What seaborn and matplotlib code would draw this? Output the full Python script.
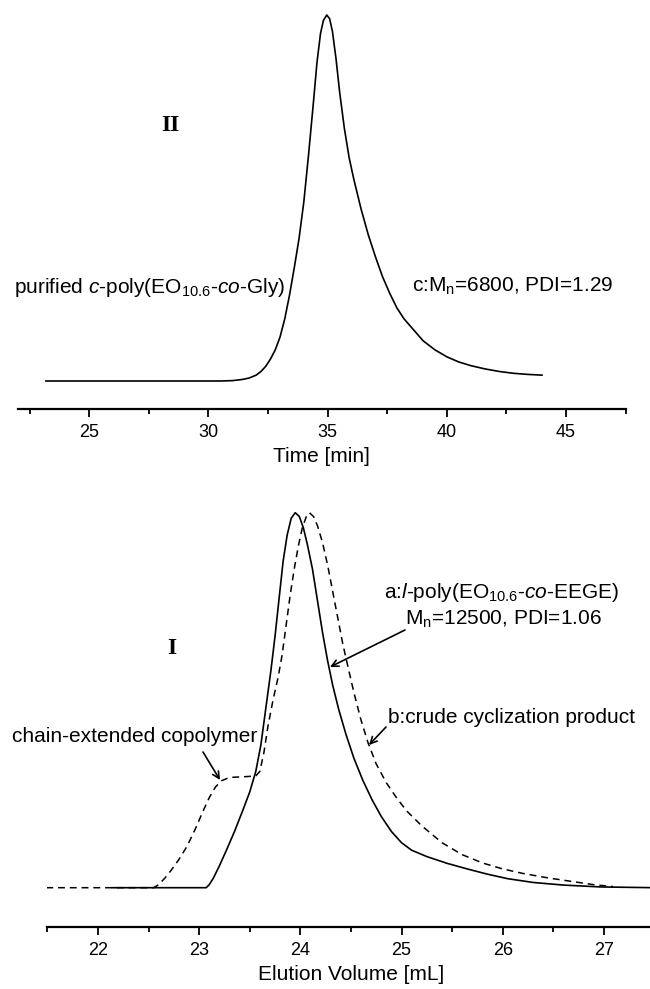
import matplotlib
matplotlib.use("Agg")
import matplotlib.pyplot as plt
import seaborn as sns
import pandas as pd

# ---------------- data ----------------
# Panel II: purified c-poly(EO10.6-co-Gly), SEC trace vs time [min]
time_c = [23.17, 25.0, 28.0, 30.5, 31.0, 31.4, 31.7, 32.0, 32.2, 32.4, 32.6, 32.8, 33.0,
          33.2, 33.4, 33.6, 33.8, 34.0, 34.2, 34.4, 34.55, 34.7, 34.82, 34.96, 35.08, 35.2,
          35.35, 35.5, 35.7, 35.9, 36.1, 36.4, 36.7, 37.0, 37.3, 37.6, 37.9, 38.2, 38.6,
          39.0, 39.5, 40.0, 40.5, 41.0, 41.6, 42.2, 42.8, 43.4, 44.0]
sig_c = [0.0, 0.0, 0.0, 0.0, 0.001, 0.004, 0.008, 0.016, 0.026, 0.04, 0.06, 0.085, 0.12,
         0.17, 0.235, 0.31, 0.39, 0.49, 0.62, 0.76, 0.87, 0.95, 0.985, 1.0, 0.99, 0.955,
         0.88, 0.79, 0.69, 0.61, 0.55, 0.47, 0.40, 0.34, 0.285, 0.24, 0.20, 0.17, 0.14,
         0.11, 0.085, 0.066, 0.052, 0.042, 0.033, 0.026, 0.021, 0.018, 0.016]

# Panel I: a = linear precursor (solid), b = crude cyclization product (dashed)
vol_a = [22.14, 23.0, 23.07, 23.1, 23.14, 23.2, 23.27, 23.35, 23.43, 23.5, 23.56, 23.61,
         23.66, 23.71, 23.75, 23.79, 23.83, 23.87, 23.91, 23.95, 23.99, 24.03, 24.07, 24.12,
         24.17, 24.22, 24.27, 24.32, 24.38, 24.45, 24.53, 24.62, 24.71, 24.8, 24.9, 25.0,
         25.1, 25.25, 25.45, 25.65, 25.85, 26.05, 26.3, 26.6, 26.97, 27.5]
sig_a = [0.0, 0.0, 0.0, 0.008, 0.025, 0.058, 0.10, 0.15, 0.205, 0.255, 0.31, 0.38,
         0.48, 0.58, 0.67, 0.77, 0.87, 0.94, 0.985, 1.0, 0.99, 0.96, 0.915, 0.85,
         0.765, 0.68, 0.605, 0.54, 0.475, 0.41, 0.345, 0.285, 0.234, 0.19, 0.15, 0.12,
         0.10, 0.083, 0.065, 0.05, 0.036, 0.024, 0.014, 0.007, 0.002, 0.0]

vol_b = [21.49, 22.0, 22.55, 22.6, 22.66, 22.72, 22.8, 22.88, 22.96, 23.04, 23.1, 23.16,
         23.22, 23.3, 23.45, 23.56, 23.6, 23.64, 23.68, 23.73, 23.78, 23.82, 23.86, 23.9,
         23.94, 23.98, 24.02, 24.06, 24.09, 24.13, 24.17, 24.22, 24.27, 24.32, 24.37, 24.42,
         24.47, 24.53, 24.6, 24.67, 24.75, 24.85, 24.95, 25.05, 25.2, 25.4, 25.6, 25.8,
         26.0, 26.2, 26.45, 26.7, 26.9, 27.09]
sig_b = [0.0, 0.0, 0.0, 0.008, 0.025, 0.045, 0.075, 0.11, 0.155, 0.205, 0.24, 0.268,
         0.285, 0.294, 0.296, 0.298, 0.31, 0.36, 0.43, 0.50, 0.56, 0.62, 0.70, 0.78,
         0.85, 0.91, 0.96, 0.99, 1.0, 0.99, 0.965, 0.92, 0.86, 0.79, 0.72, 0.65,
         0.59, 0.52, 0.447, 0.386, 0.33, 0.28, 0.24, 0.205, 0.165, 0.12, 0.088, 0.066,
         0.05, 0.038, 0.026, 0.016, 0.008, 0.003]

top_ticks = [25, 30, 35, 40, 45]
bot_ticks = [22, 23, 24, 25, 26, 27]

# ---------------- style ----------------
sns.set_style("ticks")
plt.rcParams['font.family'] = ['Liberation Sans', 'DejaVu Sans']
plt.rcParams['mathtext.fontset'] = 'custom'
plt.rcParams['mathtext.rm'] = 'Liberation Sans'
plt.rcParams['mathtext.it'] = 'Liberation Sans:italic'
plt.rcParams['mathtext.bf'] = 'Liberation Sans:bold'
plt.rcParams['text.color'] = 'black'
plt.rcParams['axes.labelcolor'] = 'black'
plt.rcParams['xtick.color'] = 'black'
plt.rcParams['axes.edgecolor'] = 'black'

W, H = 650, 989
fig = plt.figure(figsize=(W / 100, H / 100), dpi=100)


def fx(px):
    return px / W


def fy(py):
    return 1 - py / H


# top axes: spine at y=409, left 18 -> right 625.7
ax1 = fig.add_axes([fx(18), fy(409), (625.7 - 18) / W, 409 / H])
# bottom axes: spine at y=926.7, left 47.3 -> right 654.5
ax2 = fig.add_axes([fx(47.3), fy(926.7), (654.5 - 47.3) / W, (926.7 - 500) / H])

df_c = pd.DataFrame({"t": time_c, "s": sig_c})
df_a = pd.DataFrame({"v": vol_a, "s": sig_a})
df_b = pd.DataFrame({"v": vol_b, "s": sig_b})

sns.lineplot(data=df_c, x="t", y="s", ax=ax1, color="black", lw=1.2, sort=False, estimator=None)
sns.lineplot(data=df_a, x="v", y="s", ax=ax2, color="black", lw=1.2, sort=False, estimator=None)
sns.lineplot(data=df_b, x="v", y="s", ax=ax2, color="black", lw=1.1, sort=False, estimator=None)
ax2.lines[-1].set_dashes([4.5, 3.2])
for ln in ax1.lines + ax2.lines:
    ln.set_solid_joinstyle('round')
    ln.set_dash_joinstyle('round')

ax1.set_xlim(22.01, 47.5)
ax1.set_ylim(-(409 - 381) / 366, 1 + 15 / 366)
ax2.set_xlim(21.5, 27.5)
ax2.set_ylim(-(926.7 - 887.7) / 375, 1 + 12.7 / 375)

for ax, ticks in ((ax1, top_ticks), (ax2, bot_ticks)):
    sns.despine(ax=ax, left=True, top=True, right=True)
    ax.set_yticks([])
    ax.set_ylabel("")
    ax.set_xticks(ticks)
    step = ticks[1] - ticks[0]
    ax.set_xticks([t + 0.5 * step for t in [ticks[0] - step] + ticks], minor=True)
    ax.spines['bottom'].set_linewidth(1.6)
    ax.spines['bottom'].set_color('black')
    ax.tick_params(axis='x', which='major', length=6, width=1.3, direction='out',
                   labelsize=13, pad=5, colors='black')
    ax.tick_params(axis='x', which='minor', length=3.5, width=1.3, direction='out',
                   colors='black')
    ax.set_facecolor('white')

ax1.set_xlabel("Time [min]", fontsize=15, labelpad=4, color='black')
ax2.set_xlabel("Elution Volume [mL]", fontsize=15, labelpad=4, color='black')

# ---------------- text ----------------
fs = 15
fig.text(fx(14.5), fy(293), r"purified $c$-poly(EO$_{10.6}$-$co$-Gly)", fontsize=fs,
         ha='left', va='baseline', color='black')
fig.text(fx(412), fy(292), r"c:M$_\mathrm{n}$=6800, PDI=1.29", fontsize=fs,
         ha='left', va='baseline', color='black')
fig.text(fx(170), fy(125), "II", fontsize=17, fontweight='bold',
         family=['Liberation Serif'], ha='center', va='center', color='black')
fig.text(fx(172), fy(649), "I", fontsize=17, fontweight='bold',
         family=['Liberation Serif'], ha='center', va='center', color='black')

fig.text(fx(502), fy(598), r"a:$l$-poly(EO$_{10.6}$-$co$-EEGE)", fontsize=fs,
         ha='center', va='baseline', color='black')
fig.text(fx(503), fy(625), r"M$_\mathrm{n}$=12500, PDI=1.06", fontsize=fs,
         ha='center', va='baseline', color='black')
fig.text(fx(388), fy(723), "b:crude cyclization product", fontsize=fs,
         ha='left', va='baseline', color='black')
fig.text(fx(12), fy(741.5), "chain-extended copolymer", fontsize=fs,
         ha='left', va='baseline', color='black')


def to_data(px, py):
    return 21.5 + (px - 47.3) / 101.2, (887.7 - py) / 375


arrows = [((405, 630), (330, 667)), ((386, 727), (369, 745)), ((203, 752), (220, 780))]
for tail, tip in arrows:
    ax2.annotate("", xy=to_data(*tip), xytext=to_data(*tail), xycoords='data',
                 textcoords='data',
                 arrowprops=dict(arrowstyle='->', lw=1.2, color='black',
                                 shrinkA=0, shrinkB=0, mutation_scale=12))

fig.savefig("out.png", dpi=100, facecolor='white')
